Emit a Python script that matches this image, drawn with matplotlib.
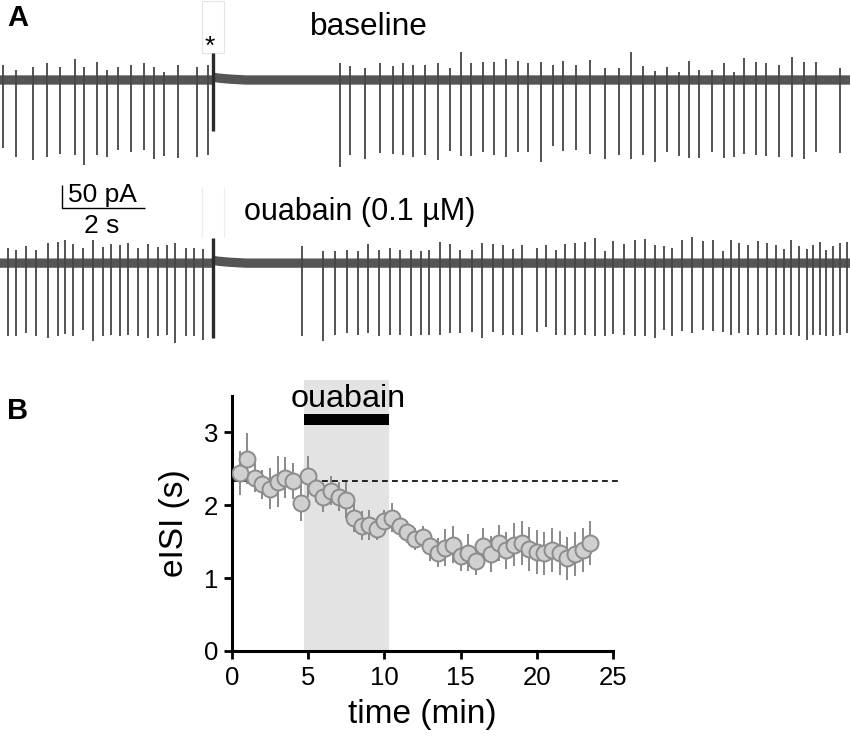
import matplotlib
matplotlib.use("Agg")
import matplotlib.pyplot as plt
from matplotlib.patches import Rectangle
import numpy as np

plt.rcParams['font.family'] = ['Liberation Sans', 'DejaVu Sans']

# ---------------- Panel A data (time in s, current in pA) ----------------
trace_len_s = 20.4
stim_t = 5.11

base_t1 = [0.06, 0.38, 0.79, 1.12, 1.44, 1.80, 2.02, 2.32, 2.56, 2.84, 3.15, 3.46, 3.70, 3.94, 4.26, 4.72, 4.98,
           8.15, 8.39, 8.75, 9.12, 9.43, 9.67, 9.92, 10.20, 10.51, 10.79, 11.07, 11.31, 11.58, 11.85, 12.14, 12.43,
           12.68, 12.99, 13.26, 13.52, 13.82, 14.15, 14.53, 14.86, 15.14, 15.43, 15.73, 16.01, 16.29, 16.54, 16.78,
           17.09, 17.37, 17.61, 17.85, 18.14, 18.38, 18.69, 19.01, 19.30, 19.59, 20.17]
base_down = [146, 165, 172, 165, 159, 161, 182, 161, 165, 150, 155, 150, 170, 163, 167, 165, 161,
             187, 161, 170, 157, 159, 161, 165, 161, 172, 152, 163, 163, 155, 161, 165, 155,
             155, 176, 142, 152, 150, 159, 170, 161, 170, 161, 176, 155, 163, 167, 167,
             155, 167, 165, 159, 161, 163, 165, 165, 170, 155, 157]
base_up = [32, 21, 28, 36, 28, 45, 28, 39, 21, 28, 32, 36, 28, 17, 32, 28, 32,
           36, 30, 26, 36, 30, 36, 32, 32, 36, 26, 60, 36, 39, 39, 45, 41,
           36, 39, 32, 41, 32, 43, 26, 26, 60, 30, 19, 28, 17, 41, 21,
           21, 36, 17, 47, 39, 36, 32, 49, 39, 39, 26]

oua_t2 = [0.18, 0.38, 0.62, 0.86, 1.16, 1.38, 1.55, 1.75, 2.00, 2.24, 2.46, 2.66, 2.88, 3.08, 3.31, 3.56, 3.78,
          4.00, 4.20, 4.46, 4.66, 4.88,
          7.24, 7.76, 8.03, 8.32, 8.58, 8.82, 9.10, 9.36, 9.60, 9.86, 10.10,
          10.30, 10.56, 10.80, 11.04, 11.33, 11.57, 11.84, 12.07, 12.30, 12.53, 12.89, 13.10, 13.34, 13.57, 13.79,
          14.05, 14.27, 14.53, 14.70, 14.97, 15.25, 15.47, 15.71, 15.93, 16.13, 16.37, 16.61, 16.86, 17.10, 17.34,
          17.54, 17.74, 17.95, 18.19, 18.41, 18.62, 18.81, 18.99, 19.18, 19.37, 19.51, 19.67, 19.83, 19.98, 20.15,
          20.33]
oua_down = [156, 156, 150, 157, 161, 157, 152, 157, 143, 168, 157, 154, 156, 154, 157, 161, 156,
            154, 172, 157, 157, 165,
            157, 168, 154, 150, 154, 150, 157, 154, 154, 157, 154,
            154, 154, 150, 150, 147, 161, 148, 154, 155, 154, 147, 136, 155, 155, 154,
            154, 157, 157, 152, 154, 157, 157, 161, 143, 157, 145, 150, 143, 145, 147,
            155, 150, 154, 155, 154, 154, 154, 154, 157, 165, 154, 154, 157, 157, 154,
            150]
oua_up = [32, 29, 36, 29, 43, 46, 49, 41, 32, 49, 34, 41, 39, 43, 32, 41, 34,
          39, 43, 32, 32, 30,
          37, 27, 25, 29, 27, 41, 29, 32, 29, 29, 25,
          29, 46, 41, 29, 29, 43, 41, 38, 31, 39, 32, 39, 29, 41, 43,
          46, 54, 25, 48, 41, 50, 52, 39, 36, 32, 50, 57, 48, 50, 25,
          50, 43, 39, 48, 43, 39, 31, 50, 36, 31, 38, 46, 29, 36, 43,
          46]

# stimulus artifact (pA) and the small baseline shift after it
artifact_up = [58, 54]
artifact_down = [110, 160]
recov_t = [0.0, 5.11, 5.11, 5.25, 5.5, 5.9, 20.4]
recov_off = [0, 0, 6, 4, 2, 0, 0]

trace_offset = -393      # pA offset of the second trace
noise_half = 10          # half width of the noise band (pA)

# ---------------- Panel B data ----------------
time_min = [0.5, 1.0, 1.5, 2.0, 2.5, 3.0, 3.5, 4.0, 4.5, 5.0, 5.5, 6.0, 6.5, 7.0, 7.5, 8.0,
            8.5, 9.0, 9.5, 10.0, 10.5, 11.0, 11.5, 12.0, 12.5, 13.0, 13.5, 14.0, 14.5, 15.0, 15.5,
            16.0, 16.5, 17.0, 17.5, 18.0, 18.5, 19.0, 19.5, 20.0, 20.5, 21.0, 21.5, 22.0, 22.5,
            23.0, 23.5]
eisi = [2.44, 2.64, 2.38, 2.29, 2.23, 2.32, 2.38, 2.33, 2.03, 2.40, 2.24, 2.11, 2.20, 2.12, 2.07, 1.83,
        1.72, 1.73, 1.67, 1.78, 1.83, 1.72, 1.63, 1.54, 1.57, 1.44, 1.35, 1.42, 1.46, 1.30, 1.35,
        1.24, 1.44, 1.33, 1.48, 1.38, 1.46, 1.48, 1.40, 1.36, 1.34, 1.39, 1.35, 1.27, 1.33,
        1.39, 1.48]
eisi_err = [0.30, 0.35, 0.20, 0.20, 0.28, 0.35, 0.28, 0.25, 0.25, 0.28, 0.20, 0.20, 0.20, 0.20, 0.25, 0.20,
            0.20, 0.20, 0.15, 0.15, 0.20, 0.15, 0.15, 0.15, 0.15, 0.20, 0.20, 0.25, 0.25, 0.20, 0.25,
            0.20, 0.25, 0.25, 0.25, 0.25, 0.30, 0.30, 0.30, 0.30, 0.30, 0.30, 0.30, 0.30, 0.30,
            0.30, 0.30]
baseline_level = 2.33
drug_start, drug_end = 4.75, 10.33

# ---------------- Figure ----------------
W, H = 850, 741
fig = plt.figure(figsize=(W / 100, H / 100), dpi=100)

pa_per_px = 50 / 23.3
axA = fig.add_axes([0, 1 - 360 / H, 1, 360 / H])
axA.set_xlim(0, trace_len_s)
axA.set_ylim(-(360 - 80) * pa_per_px, 80 * pa_per_px)
axA.axis('off')

band_col = '#555555'
spike_col = '#454545'
for off, ts, dn, up, ai in [(0, base_t1, base_down, base_up, 0),
                            (trace_offset, oua_t2, oua_down, oua_up, 1)]:
    rt = np.array(recov_t)
    ro = np.array(recov_off) + off
    axA.fill_between(rt, ro - noise_half, ro + noise_half, color=band_col, lw=0, zorder=2)
    axA.vlines(ts, off - np.array(dn), off + np.array(up), color=spike_col, lw=1.3, zorder=3)
    axA.vlines([stim_t], off - artifact_down[ai], off + artifact_up[ai], color='#2a2a2a', lw=2.4, zorder=4)

# faint boxes around stimulus region
axA.add_patch(Rectangle((202 / W * trace_len_s, 27 * pa_per_px), 22 / W * trace_len_s, 52 * pa_per_px,
                        fill=False, ec='#e4e4e4', lw=0.8, zorder=1))
axA.vlines([202 / W * trace_len_s, 224 / W * trace_len_s], -(237 - 80) * pa_per_px, -(187 - 80) * pa_per_px,
           color='#ececec', lw=0.8, zorder=1)

# scale bar
sb_t0, sb_y0 = 1.48, -275
axA.plot([sb_t0, sb_t0, sb_t0 + 2], [sb_y0 + 50, sb_y0, sb_y0], color='black', lw=1.0, solid_capstyle='butt')
axA.text(sb_t0 + 0.15, sb_y0 + 28, '50 pA', fontsize=19, ha='left', va='center')
axA.text(sb_t0 + 0.95, sb_y0 - 38, '2 s', fontsize=19, ha='center', va='center')

fig.text(7 / W, 1 - 26 / H, 'A', fontsize=21, fontweight='bold', ha='left', va='baseline')
fig.text(369 / W, 1 - 35 / H, 'baseline', fontsize=22.8, ha='center', va='baseline')
fig.text(210 / W, 1 - 54 / H, '*', fontsize=19, ha='center', va='baseline')
fig.text(244 / W, 1 - 220 / H, 'ouabain (0.1 µM)', fontsize=22, ha='left', va='baseline')

# ---------------- Panel B ----------------
axB = fig.add_axes([232 / W, (H - 651) / H, 381 / W, (651 - 396) / H])
axB.set_xlim(0, 25)
axB.set_ylim(0, 3.5)
for s in ['top', 'right']:
    axB.spines[s].set_visible(False)
for s in ['left', 'bottom']:
    axB.spines[s].set_linewidth(2.2)
axB.set_xticks([0, 5, 10, 15, 20, 25])
axB.set_yticks([0, 1, 2, 3])
axB.tick_params(direction='out', length=6, width=2.0, labelsize=18.5, pad=4)
axB.tick_params(axis='x', pad=5)

axB.add_patch(Rectangle((drug_start, 0), drug_end - drug_start, 3.72, color='#e3e3e3', lw=0,
                        clip_on=False, zorder=0))
axB.add_patch(Rectangle((drug_start, 3.10), drug_end - drug_start, 0.15, color='black', lw=0,
                        clip_on=False, zorder=3))
axB.text(7.6, 3.355, 'ouabain', fontsize=23.3, ha='center', va='baseline')

axB.plot([0, 25.4], [baseline_level, baseline_level], color='black', lw=1.2, dashes=(3.5, 2.5),
         clip_on=False, zorder=2)
axB.errorbar(time_min, eisi, yerr=eisi_err, fmt='o', ms=11.5, mfc='#d0d0d0', mec='#8c8c8c', mew=1.4,
             ecolor='#8a8a8a', elinewidth=1.4, capsize=0, zorder=4)

axB.set_xlabel('time (min)', fontsize=24, labelpad=6)
axB.set_ylabel('eISI (s)', fontsize=24, labelpad=10)

fig.text(7 / W, 1 - 419 / H, 'B', fontsize=21, fontweight='bold', ha='left', va='baseline')

fig.savefig('out.png', dpi=100)
